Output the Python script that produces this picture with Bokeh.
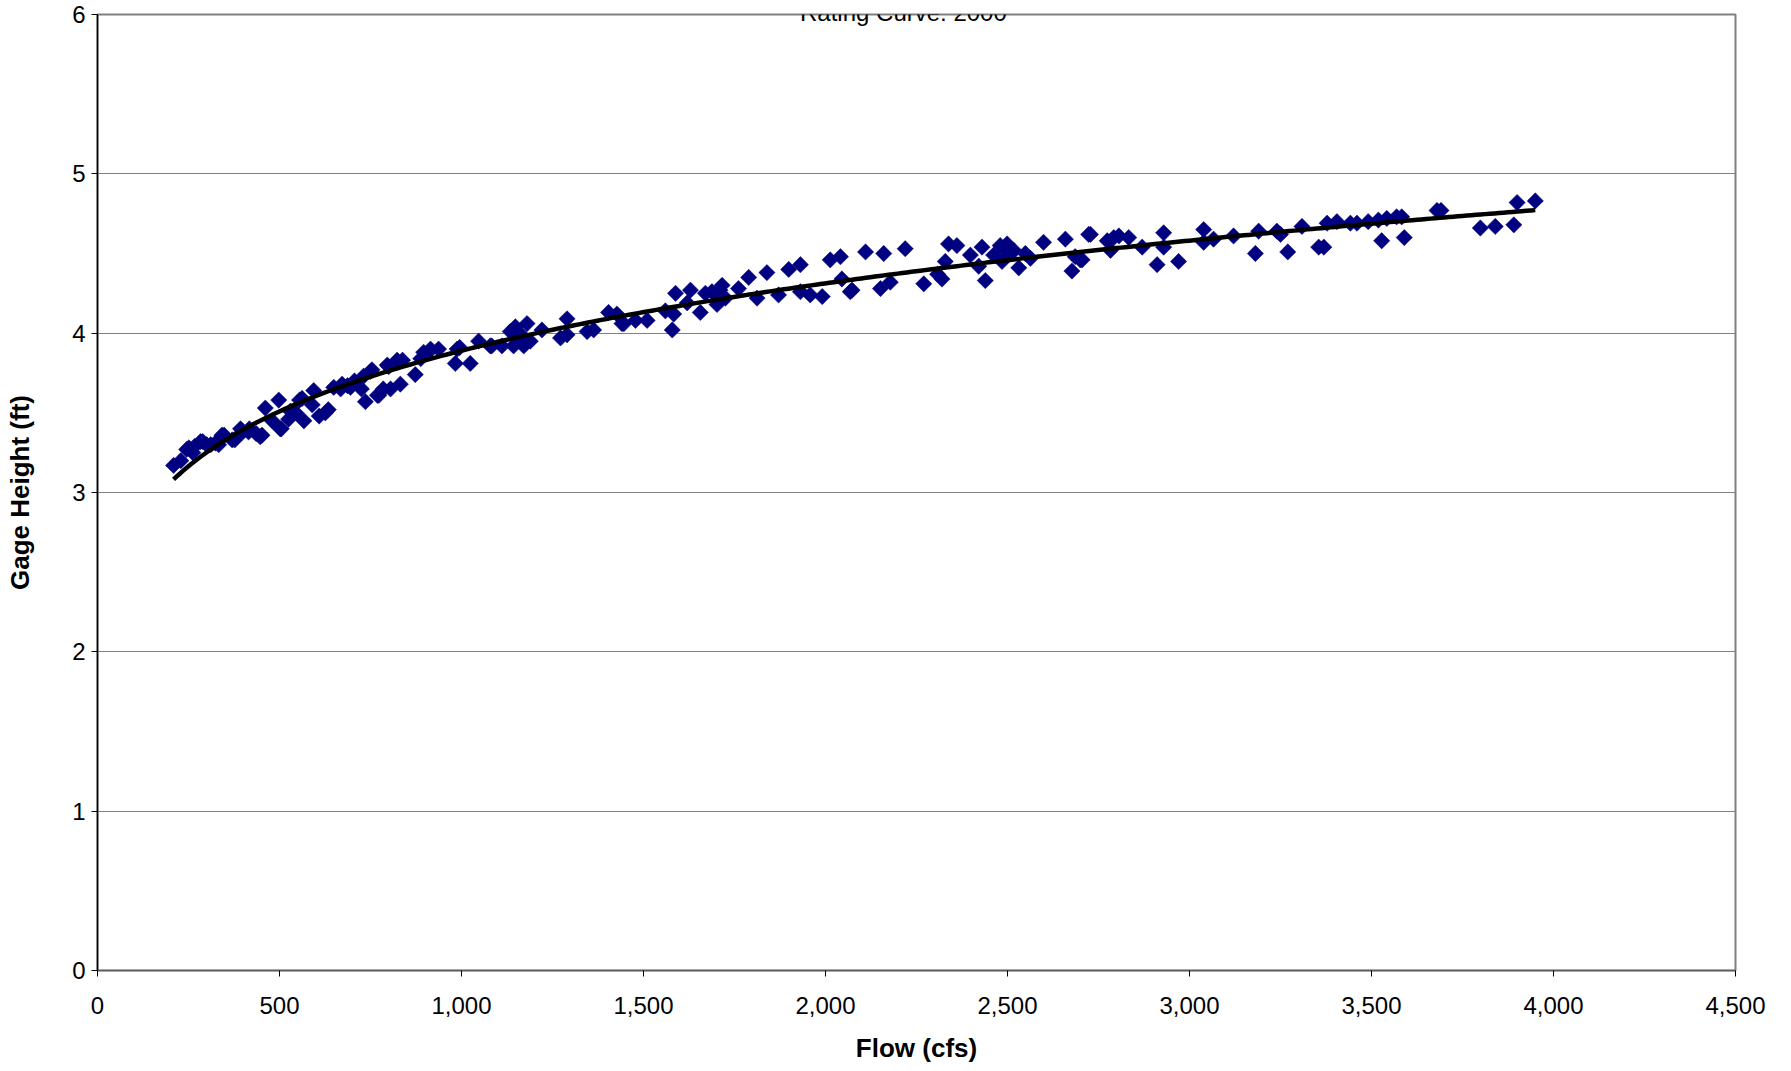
import numpy as np
from bokeh.plotting import figure
from bokeh.models import Label, NumeralTickFormatter, FixedTicker, Range1d
from bokeh.embed import file_html
from bokeh.resources import INLINE

title_text = "Rating Curve: 2000"
x_label = "Flow (cfs)"
y_label = "Gage Height (ft)"
x_ticks = [0, 500, 1000, 1500, 2000, 2500, 3000, 3500, 4000, 4500]
y_ticks = [0, 1, 2, 3, 4, 5, 6]

flow = [209, 229, 251, 262, 283, 300, 324, 342, 370, 393, 415, 447, 461, 480, 498, 502,
        525, 545, 562, 567, 590, 594, 626, 649, 672, 695, 731, 736, 754, 773, 796, 805,
        823, 832, 873, 896, 915, 937, 983, 988, 1024, 1047, 1079, 1111, 1134, 1143, 1148,
        1160, 1171, 1180, 1189, 1221, 1272, 1290, 1290, 1345, 1363, 1404, 1427, 1441,
        1446, 1478, 1510, 1560, 1579, 1583, 1588, 1620, 1629, 1656, 1670, 1688, 1702,
        1710, 1716, 1725, 1761, 1789, 1812, 1839, 1871, 1899, 1931, 1931, 1958, 1991,
        2013, 2041, 2045, 2068, 2073, 2110, 2151, 2160, 2178, 2219, 2270, 2308, 2320,
        2329, 2338, 2361, 2398, 2421, 2430, 2439, 2462, 2480, 2485, 2499, 2510, 2517,
        2531, 2549, 2563, 2599, 2659, 2677, 2686, 2700, 2705, 2723, 2728, 2774, 2783,
        2792, 2806, 2833, 2870, 2911, 2929, 2929, 2970, 3039, 3039, 3066, 3121, 3181,
        3190, 3240, 3250, 3270, 3309, 3355, 3369, 3378, 3405, 3442, 3460, 3491, 3519,
        3528, 3542, 3569, 3583, 3590, 3680, 3691, 3799, 3840, 3891, 3900, 3950,
        245, 267, 289, 311, 333, 348, 377, 399, 417, 436, 452, 505, 530, 555, 609, 634,
        668, 687, 706, 725, 750, 769, 785, 800, 838, 888, 913, 995, 1083, 1155, 1700, 2495]

gage = [3.17, 3.20, 3.28, 3.25, 3.32, 3.30, 3.31, 3.36, 3.33, 3.40, 3.38, 3.35, 3.53, 3.45,
        3.58, 3.40, 3.46, 3.50, 3.59, 3.45, 3.55, 3.64, 3.50, 3.66, 3.68, 3.66, 3.73, 3.57,
        3.77, 3.61, 3.80, 3.65, 3.83, 3.68, 3.74, 3.88, 3.90, 3.90, 3.81, 3.90, 3.81, 3.95,
        3.92, 3.92, 4.01, 3.92, 4.04, 4.00, 3.92, 4.06, 3.95, 4.02, 3.97, 4.09, 3.99, 4.01,
        4.02, 4.13, 4.12, 4.06, 4.06, 4.08, 4.08, 4.14, 4.02, 4.12, 4.25, 4.19, 4.27, 4.13,
        4.25, 4.26, 4.18, 4.27, 4.30, 4.22, 4.28, 4.35, 4.22, 4.38, 4.24, 4.40, 4.43, 4.26,
        4.24, 4.23, 4.46, 4.48, 4.34, 4.26, 4.27, 4.51, 4.28, 4.50, 4.32, 4.53, 4.31, 4.37,
        4.34, 4.45, 4.56, 4.55, 4.49, 4.42, 4.54, 4.33, 4.49, 4.55, 4.45, 4.56, 4.50, 4.52,
        4.41, 4.50, 4.47, 4.57, 4.59, 4.39, 4.48, 4.46, 4.46, 4.62, 4.62, 4.58, 4.52,
        4.60, 4.61, 4.60, 4.54, 4.43, 4.63, 4.54, 4.45, 4.65, 4.57, 4.59, 4.61, 4.50,
        4.64, 4.64, 4.62, 4.51, 4.67, 4.54, 4.54, 4.69, 4.70, 4.69, 4.69, 4.70, 4.71,
        4.58, 4.72, 4.73, 4.73, 4.60, 4.77, 4.77, 4.66, 4.67, 4.68, 4.82, 4.83,
        3.27, 3.29, 3.32, 3.30, 3.30, 3.36, 3.33, 3.38, 3.40, 3.37, 3.36, 3.40, 3.51, 3.58,
        3.48, 3.52, 3.65, 3.67, 3.70, 3.65, 3.76, 3.61, 3.65, 3.79, 3.83, 3.84, 3.89, 3.91,
        3.92, 3.97, 4.24, 4.52]

# Power trendline (log-log least squares, like a spreadsheet "power" trendline)
lx = np.log(np.array(flow, dtype=float))
ly = np.log(np.array(gage, dtype=float))
b, ln_a = np.polyfit(lx, ly, 1)
trend_x = np.linspace(min(flow), max(flow), 300)
trend_y = np.exp(ln_a) * trend_x ** b

FONT = "Liberation Sans"

p = figure(output_backend="svg", toolbar_location=None,
           frame_width=1638, frame_height=956,
           x_range=Range1d(0, 4500), y_range=Range1d(0, 6),
           min_border_left=97, min_border_right=40, min_border_top=14, min_border_bottom=100)
p.background_fill_color = "white"
p.border_fill_color = "white"
p.outline_line_color = "#808080"
p.outline_line_width = 2

p.scatter(flow, gage, marker="square", angle=np.pi / 4, size=11.5,
          fill_color="#000080", line_color="#000080", line_width=0.5)
p.line(trend_x, trend_y, line_color="black", line_width=4.5)

p.xgrid.grid_line_color = None
p.ygrid.grid_line_color = "#808080"
p.ygrid.grid_line_width = 1

p.xaxis.ticker = FixedTicker(ticks=x_ticks)
p.yaxis.ticker = FixedTicker(ticks=y_ticks)
p.xaxis.formatter = NumeralTickFormatter(format="0,0")

for ax in (p.xaxis[0], p.yaxis[0]):
    ax.axis_line_color = "black"
    ax.axis_line_width = 1.5
    ax.major_tick_line_color = "black"
    ax.major_tick_in = 0
    ax.major_tick_out = 6
    ax.minor_tick_line_color = None
    ax.major_label_text_font = FONT
    ax.major_label_text_font_size = "24px"
    ax.major_label_text_color = "black"
    ax.axis_label_text_font = FONT
    ax.axis_label_text_font_size = "26px"
    ax.axis_label_text_font_style = "bold"
    ax.axis_label_text_color = "black"

p.xaxis.axis_line_color = "#606060"
p.xaxis.major_label_standoff = 20
p.xaxis.axis_label = x_label
p.xaxis.axis_label_standoff = 16
p.yaxis.major_label_standoff = 6
p.yaxis.axis_label = y_label
p.yaxis.axis_label_standoff = 34

p.add_layout(Label(x=2214, y=6.011, text=title_text, text_align="center",
                   text_baseline="alphabetic", text_font=FONT, text_font_size="24px",
                   text_color="black"))

open("out.html", "w").write(file_html(p, INLINE))
